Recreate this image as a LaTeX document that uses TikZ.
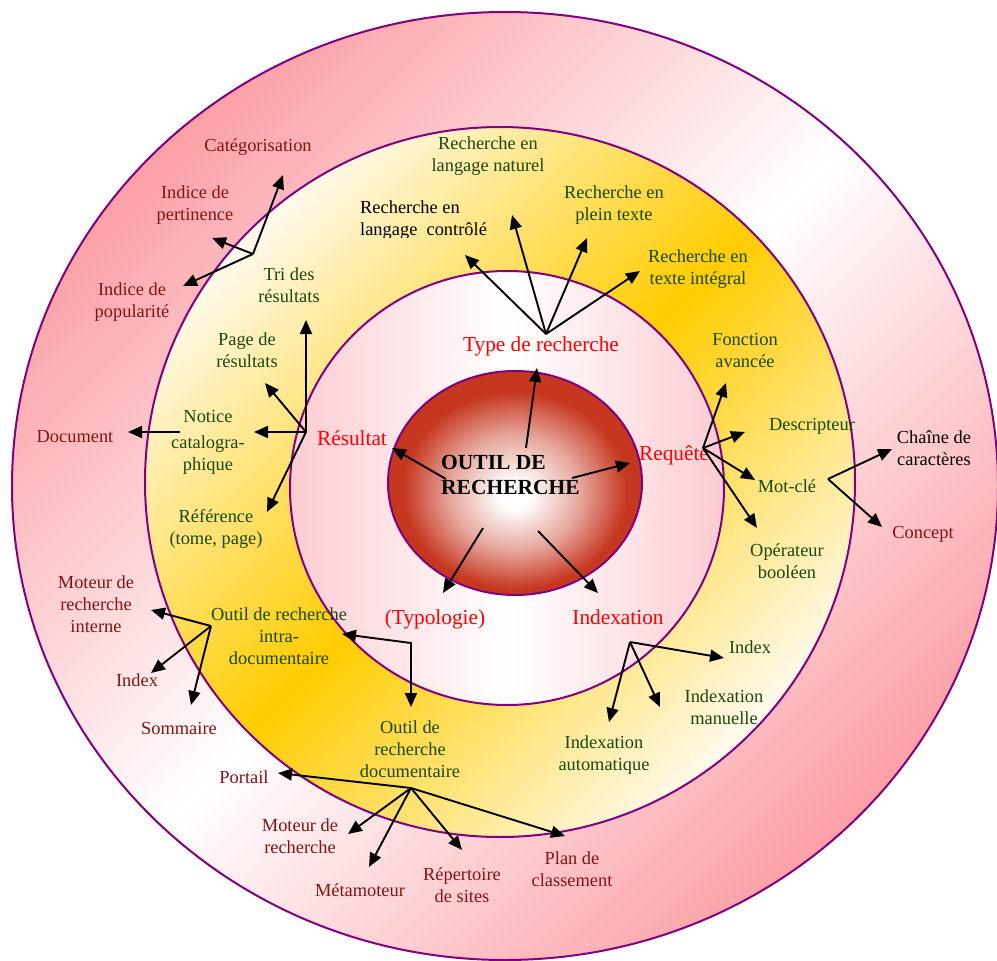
\documentclass[tikz,border=0pt]{standalone}
\usepackage{fontspec}
\setmainfont{Liberation Serif}
\usetikzlibrary{arrows.meta}

\definecolor{ringpurple}{RGB}{128,0,128}
\definecolor{pinkdeep}{RGB}{251,160,166}
\definecolor{pinklight}{RGB}{253,204,210}
\definecolor{gold}{RGB}{255,204,0}
\definecolor{cream}{RGB}{255,250,238}
\definecolor{ballred}{RGB}{198,55,32}
\definecolor{labgreen}{RGB}{26,72,16}
\definecolor{labdark}{RGB}{130,20,20}
\definecolor{labred}{RGB}{255,0,0}

% white core fading out to red at the rim, core slightly below centre
\pgfdeclareradialshading{ballshade}{\pgfpoint{0bp}{-3bp}}{%
  color(0bp)=(white); color(3bp)=(white); color(13bp)=(ballred!45!white);
  color(22bp)=(ballred); color(50bp)=(ballred)}

\tikzset{
  ring/.style={draw=ringpurple, line width=2pt},
  lbl/.style={inner sep=0pt, align=center, font=\fontsize{18.4}{22}\selectfont},
  grn/.style={lbl, text=labgreen},
  drk/.style={lbl, text=labdark},
  blk/.style={lbl, text=black},
  hub/.style={inner sep=0pt, font=\fontsize{21.3}{25}\selectfont, text=labred},
  arr/.style={line width=1.9pt, -{Triangle[length=14pt,width=12pt]}},
  twoway/.style={line width=1.9pt, {Triangle[length=14pt,width=12pt]}-{Triangle[length=14pt,width=12pt]}},
}

\begin{document}
\begin{tikzpicture}[x=1pt,y=-1pt]
\useasboundingbox (0,0) rectangle (997,961);
\clip (0,0) rectangle (997,961);

% ---------- rings (middle colour must come last) ----------
\draw[ring, top color=pinkdeep, bottom color=pinkdeep, middle color=white, shading angle=45]
  (505,486) ellipse [x radius=493pt, y radius=474pt];
\draw[ring, top color=cream, bottom color=cream, middle color=gold, shading angle=45]
  (500,482) circle [radius=355pt];
\draw[ring, left color=pinklight, right color=pinklight, middle color=white]
  (507,488) circle [radius=217pt];
\draw[ring, shading=ballshade] (515,483) ellipse [x radius=127pt, y radius=112pt];

% ---------- centre ----------
\node[inner sep=0pt, anchor=west, align=left, font=\bfseries\fontsize{21.5}{25}\selectfont] (core) at (441,475) {OUTIL DE\\RECHERCHE};

% ---------- main branches ----------
\node[hub] (typ)  at (541,346) {Type de recherche};
\node[hub] (res)  at (352,438) {Résultat};
\node[hub] (req)  at (674,455) {Requête};
\node[hub] (typo) at (435,619) {(Typologie)};
\node[hub] (idx)  at (618,617) {Indexation};

% ---------- second ring ----------
\begin{scope}
  \clip (340,190) rectangle (520,237);
  \node[blk, align=left, anchor=west] (ctrl) at (360,220) {Recherche en\\langage\ \ contrôlé};
\end{scope}
\node[grn] (natl)   at (488,156) {Recherche en\\langage naturel};
\node[grn] (plein)  at (614,205) {Recherche en\\plein texte};
\node[grn] (integ)  at (698,269) {Recherche en\\texte intégral};
\node[grn] (fonc)   at (745,350) {Fonction\\avancée};
\node[grn] (desc)   at (812,426) {Descripteur};
\node[grn] (motcle) at (787,486) {Mot-clé};
\node[grn] (oper)   at (787,561) {Opérateur\\booléen};
\node[grn] (idxr)   at (750,647) {Index};
\node[grn] (manu)   at (724,707) {Indexation\\manuelle};
\node[grn] (auto)   at (604,755) {Indexation\\automatique};
\node[grn] (docu)   at (410,749) {Outil de\\recherche\\documentaire};
\node[grn] (intra)  at (279,636) {Outil de recherche\\intra-\\documentaire};
\node[grn] (ref)    at (216,529) {Référence\\(tome, page)};
\node[grn] (notice) at (208,442.5) {Notice\\[4pt]catalogra-\\phique};
\node[grn] (page)   at (247,350) {Page de\\résultats};
\node[grn] (tri)    at (289,285) {Tri des\\résultats};

% ---------- outer ring ----------
\node[drk] (categ)   at (258,147) {Catégorisation};
\node[drk] (pert)    at (195,205) {Indice de\\pertinence};
\node[drk] (popu)    at (132,302) {Indice de\\popularité};
\node[drk] (docn)    at (75,437)  {Document};
\node[drk] (moti)    at (96,604)  {Moteur de\\recherche\\interne};
\node[drk] (idxl)    at (137,680) {Index};
\node[drk] (somm)    at (179,728) {Sommaire};
\node[drk] (port)    at (244,777) {Portail};
\node[drk] (motr)    at (300,836) {Moteur de\\recherche};
\node[drk] (meta)    at (360,890) {Métamoteur};
\node[drk] (rep)     at (462,885) {Répertoire\\de sites};
\node[drk] (plan)    at (572,869) {Plan de\\classement};
\node[drk] (concept) at (923,534) {Concept};
\node[blk] (chaine)  at (934,448) {Chaîne de\\caractères};

% ---------- connector points ----------
\coordinate (cRes) at (446,479);  \coordinate (tRes) at (392,448);
\coordinate (cTyp) at (526,448);  \coordinate (tTyp) at (537,368);
\coordinate (cReq) at (572,478);  \coordinate (tReq) at (630,463);
\coordinate (cTypo) at (483,528); \coordinate (tTypo) at (443,593);
\coordinate (cIdx) at (538,531);  \coordinate (tIdx) at (598,593);

\coordinate (jtri) at (253,254);
\coordinate (tCateg) at (283,175);
\coordinate (tPert) at (212,238);
\coordinate (tPopu) at (183,286);

\coordinate (jres) at (306,432);
\coordinate (tTri) at (306,320);
\coordinate (tPage) at (265,383);
\coordinate (tNotice) at (254,432);
\coordinate (tRef) at (267,512);

\coordinate (sNotice) at (180,432);
\coordinate (tDoc) at (128,432);

\coordinate (jtyp) at (546,334);
\coordinate (tCtrl) at (465,255);
\coordinate (tNatl) at (512,215);
\coordinate (tPlein) at (587,238);
\coordinate (tInteg) at (640,271);

\coordinate (jreq) at (703,448);
\coordinate (tFonc) at (726,383);
\coordinate (tDesc) at (745,432);
\coordinate (tMot) at (755,480);
\coordinate (tOper) at (757,528);

\coordinate (jmot) at (828,479);
\coordinate (tChaine) at (892,449);
\coordinate (tConcept) at (882,527);

\coordinate (jidx) at (630,642);
\coordinate (tIdxR) at (724,658);
\coordinate (tManu) at (660,707);
\coordinate (tAuto) at (609,722);

\coordinate (tIntra) at (342,634);
\coordinate (elbow) at (411,643);
\coordinate (tDocu) at (411,707);

\coordinate (jintra) at (211,626);
\coordinate (tMoti) at (151,610);
\coordinate (tIdxL) at (151,673);
\coordinate (tSomm) at (191,705);

\coordinate (jdoc) at (411,788);
\coordinate (tPort) at (278,773);
\coordinate (tMotr) at (348,834);
\coordinate (tMeta) at (369,867);
\coordinate (tRep) at (462,850);
\coordinate (tPlan) at (565,836);

% ---------- connectors ----------
\foreach \a/\b in {cRes/tRes, cTyp/tTyp, cReq/tReq, cTypo/tTypo, cIdx/tIdx,
  jtri/tCateg, jtri/tPert, jtri/tPopu,
  jres/tTri, jres/tPage, jres/tNotice, jres/tRef, sNotice/tDoc,
  jtyp/tCtrl, jtyp/tNatl, jtyp/tPlein, jtyp/tInteg,
  jreq/tFonc, jreq/tDesc, jreq/tMot, jreq/tOper,
  jmot/tChaine, jmot/tConcept,
  jidx/tIdxR, jidx/tManu, jidx/tAuto,
  jintra/tMoti, jintra/tIdxL, jintra/tSomm,
  jdoc/tPort, jdoc/tMotr, jdoc/tMeta, jdoc/tRep, jdoc/tPlan}
  \draw[arr] (\a) -- (\b);
\draw[twoway] (tIntra) -- (elbow) -- (tDocu);

\end{tikzpicture}
\end{document}
